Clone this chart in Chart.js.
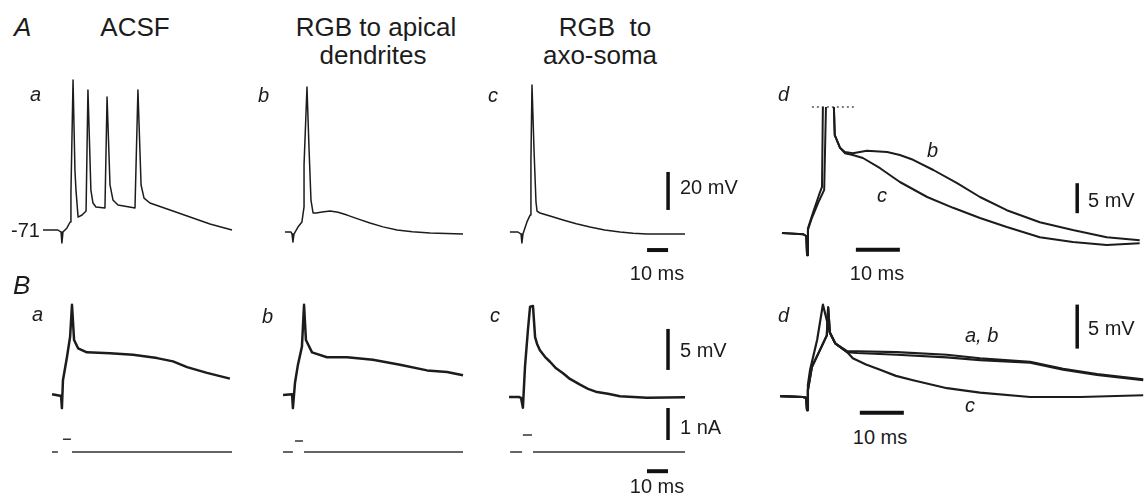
<!DOCTYPE html>
<html>
<head>
<meta charset="utf-8">
<script src="https://cdn.jsdelivr.net/npm/chart.js@4.4.1/dist/chart.umd.min.js"></script>
<style>
  html,body{margin:0;padding:0;background:#fff}
  #fig{position:relative;width:1144px;height:495px;overflow:hidden;font-family:'Liberation Sans',Arial,sans-serif;color:#1c1c1c}
  #fig canvas{position:absolute}
  .t{position:absolute;line-height:1;white-space:pre;transform:translateY(-50%)}
  .c{transform:translate(-50%,-50%)}
  .i{font-style:italic}
</style>
</head>
<body>
<div id="fig"></div>
<script>
// time in ms, membrane potential in mV, injected current in nA

// A a – ACSF, burst of 4 spikes
const tAa = [-1.9, 5.2, 6.7, 7.1, 7.6, 9.5, 11.0, 11.4, 12.4, 13.3, 13.8, 14.8, 16.7, 18.6, 19.5, 20.9, 21.9, 23.3, 27.6, 28.6, 30.0, 31.4, 33.8, 41.9, 43.3, 44.8, 46.2, 49.0, 58.6, 68.1, 77.6, 88.1];
const vAa = [-71, -71, -72.1, -77.8, -72.1, -69.9, -66.8, -51.5, 7.9, -39.4, -50, -64.2, -63.1, -61, 2.7, -50, -56.8, -58.9, -59.4, -1, -47.3, -55.2, -57.8, -59.4, 2.7, -47.3, -54.2, -56.8, -60.5, -64.2, -67.8, -71];

// A b – RGB to apical dendrites
const tAb = [3.3, 6.2, 6.7, 7.1, 7.6, 9.5, 11.4, 12.4, 12.4, 13.8, 14.8, 15.7, 16.7, 18.1, 21.0, 24.8, 28.6, 32.9, 38.0, 43.8, 50.0, 56.7, 64.0, 72.4, 88.1];
const vAb = [-71, -71, -72.1, -76.3, -72.1, -68.4, -65.7, -57.8, -35.7, 5.3, -27.8, -54.2, -61, -61, -60.5, -60, -60.6, -62.1, -64.1, -66.3, -68.3, -69.9, -70.9, -71.5, -72.1];

// A c – RGB to axo-soma
const tAc = [1.4, 5.2, 6.7, 7.1, 7.6, 9.5, 11.0, 11.4, 11.4, 11.9, 12.9, 13.8, 14.3, 15.7, 20.5, 26.7, 33.0, 39.5, 46.5, 53.8, 60.0, 66.7, 88.1];
const vAc = [-71, -71, -72.1, -76.8, -72.1, -65.7, -62.1, -55.2, -33.1, 6.4, -28.9, -55.2, -60, -61, -62.6, -64.7, -66.7, -68.4, -69.9, -71, -71.7, -72.1, -72.1];

// A d – b and c overlaid, spikes truncated
const tAdB = [1.4, 6.2, 6.9, 7.1, 7.3, 8.2, 9.6, 11.0, 11.4, 12.3, 13.2, 13.4, 14.6, 15.7, 17.5, 20.7, 25.3, 28.2, 31.2, 35.8, 41.2, 46.4, 52.5, 60.0, 67.5, 75.2, 82.7];
const vAdB = [-71, -71.2, -71.5, -74.7, -70.5, -68.5, -66, -63.8, -50, null, -50, -54.7, -56.8, -57.5, -57.7, -57.3, -57.5, -58, -58.8, -60.5, -62.7, -65, -67.2, -69.2, -70.5, -71.7, -72.2];
const tAdC = [1.4, 6.2, 6.9, 7.1, 7.3, 8.5, 9.8, 10.5, 10.7, 12.0, 13.2, 13.4, 14.6, 15.7, 17.5, 19.8, 23.7, 28.2, 34.4, 40.3, 46.4, 52.5, 60.0, 67.5, 75.2, 82.7];
const vAdC = [-71, -71.2, -71.5, -74.7, -70.2, -67.5, -64.7, -63.3, -50, null, -50, -54.7, -56.8, -57.7, -58, -58.5, -60.2, -62.5, -65, -66.8, -68.5, -70, -71.7, -72.5, -73, -72.7];

// B a, b, c – subthreshold responses
const tBa = [2.4, 6.2, 6.7, 7.1, 7.6, 9.5, 11.0, 11.9, 12.9, 14.8, 19.0, 30.0, 41.0, 52.4, 60.0, 66.7, 76.2, 87.1];
const vBa = [-70.9, -71.1, -71.1, -72.6, -69.2, -66.4, -63.9, -60, -64.3, -65.3, -65.8, -65.9, -66.1, -66.5, -66.9, -67.6, -68.3, -69];
const tBb = [2.4, 6.7, 7.1, 8.1, 9.5, 11.4, 12.4, 13.3, 16.2, 23.3, 32.9, 45.2, 58.1, 71.0, 80.5, 88.1];
const vBb = [-71, -70.9, -72.6, -69.5, -67.3, -65.1, -60, -64.3, -65.8, -66.4, -66.4, -66.7, -67.3, -68, -68.2, -68.6];
const tBc = [0.5, 5.2, 6.2, 7.1, 8.1, 9.5, 10.5, 11.9, 12.9, 13.8, 15.2, 17.6, 20.0, 22.9, 26.2, 29.5, 34.3, 38.1, 42.4, 47.6, 53.3, 66.2, 87.6];
const vBc = [-71, -71, -71.1, -72.3, -67.3, -62.8, -60, -59.9, -63.7, -64.5, -65.3, -66.1, -66.7, -67.5, -68.1, -68.8, -69.5, -70.0, -70.4, -70.6, -70.9, -71.1, -71];

// injected current steps under B a, b, c
const tIa = [2.4, 5.2, 6.4, 7.6, 11.4, 11.6, 11.9, 88.1];
const iIa = [0, 0, null, 0.4, 0.4, null, 0, 0];
const tIb = [2.4, 7.1, 7.6, 8.1, 11.9, 12.1, 12.4, 88.1];
const iIb = [0, 0, null, 0.34, 0.34, null, 0, 0];
const tIc = [1.0, 6.7, 6.9, 7.1, 11.4, 11.6, 11.9, 87.6];
const iIc = [0, 0, null, 0.53, 0.53, null, 0, 0];

// B d – a, b and c overlaid
const tBdA = [1.0, 6.2, 6.9, 7.1, 7.3, 8.2, 10.0, 11.6, 11.9, 12.3, 13.5, 16.2, 18.5, 27.5, 38.9, 46.4, 57.8, 65.3, 73.0, 83.5];
const vBdA = [-70.9, -71, -71.1, -72.5, -70.2, -67.6, -65.7, -64, -60.8, -63.7, -64.9, -65.9, -66, -66.2, -66.5, -66.8, -67.1, -67.9, -68.5, -69.1];
const vBdB = [-70.9, -71, -71.1, -72.5, -70.2, -67.6, -65.7, -64, -60.8, -63.7, -64.9, -65.8, -65.8, -65.9, -66.2, -66.6, -67.0, -67.8, -68.4, -69.0];
const tBdC = [1.0, 6.2, 6.9, 7.1, 7.3, 7.8, 9.4, 10.7, 12.3, 13.5, 16.2, 17.5, 20.5, 23.7, 27.3, 31.2, 38.9, 46.4, 57.8, 69.2, 83.5];
const vBdC = [-70.9, -71, -71.1, -72.5, -69.6, -67.9, -64.5, -60.5, -63.7, -64.9, -65.9, -66.6, -67.3, -67.9, -68.6, -69.1, -70, -70.5, -71, -71, -70.8];

const REST = -71;
const INK = '#1c1c1c';
const fig = document.getElementById('fig');

const pts = (t, v) => t.map((x, k) => ({ x, y: v[k] }));
const trace = (t, v, w, extra) => Object.assign({ data: pts(t, v), borderColor: INK, borderWidth: w, spanGaps: false }, extra || {});
const bar = (t, v, extra) => Object.assign({ data: pts(t, v), borderColor: '#111', borderWidth: 3.5, borderCapStyle: 'butt' }, extra || {});

// cal: box [left, top, w, h], x0 = px of t=0, ppx = px/ms, y0 = px of rest, ppy = px/mV, i0/ppi for nA
function panel(cal, datasets) {
  const [L, T, W, H] = cal.box;
  const cv = document.createElement('canvas');
  cv.width = W; cv.height = H;
  cv.style.cssText = `left:${L}px;top:${T}px;width:${W}px;height:${H}px`;
  fig.appendChild(cv);
  const xmin = -(cal.x0 - L) / cal.ppx;
  const ymax = REST + (cal.y0 - T) / cal.ppy;
  const scales = {
    x: { type: 'linear', display: false, min: xmin, max: xmin + W / cal.ppx },
    y: { type: 'linear', display: false, min: ymax - H / cal.ppy, max: ymax },
  };
  if (cal.i0) {
    const imax = (cal.i0 - T) / cal.ppi;
    scales.yI = { type: 'linear', display: false, min: imax - H / cal.ppi, max: imax };
  }
  new Chart(cv, {
    type: 'line',
    data: { datasets },
    options: {
      responsive: false, animation: false, events: [],
      layout: { padding: 0 },
      plugins: { legend: { display: false }, tooltip: { enabled: false } },
      elements: { point: { radius: 0 }, line: { tension: 0, borderJoinStyle: 'round' } },
      scales,
    },
  });
}

function label(txt, x, y, size, cls) {
  const d = document.createElement('div');
  d.className = 't ' + (cls || '');
  d.style.left = x + 'px'; d.style.top = y + 'px'; d.style.fontSize = size + 'px';
  d.textContent = txt;
  fig.appendChild(d);
}

// ---- row A ----
panel({ box: [38, 70, 205, 185], x0: 47, ppx: 2.1, y0: 230, ppy: 1.9 }, [trace(tAa, vAa, 1.5)]);
panel({ box: [270, 70, 200, 185], x0: 278, ppx: 2.1, y0: 232, ppy: 1.9 }, [trace(tAb, vAb, 1.5)]);
panel({ box: [490, 70, 195, 195], x0: 507, ppx: 2.1, y0: 232, ppy: 1.9 }, [
  trace(tAc, vAc, 1.5),
  bar([76.7, 76.7], [-59.4, -39.4]),
  bar([66.7, 76.7], [-80.5, -80.5], { borderWidth: 4 }),
]);
panel({ box: [775, 100, 369, 165], x0: 775.8, ppx: 4.4, y0: 233, ppy: 6 }, [
  trace(tAdB, vAdB, 2),
  trace(tAdC, vAdC, 2),
  trace([8.2, 18], [-50, -50], 1.5, { borderDash: [2, 3], borderColor: '#555' }),
  bar([68.5, 68.5], [-67.7, -62.7]),
  bar([18.2, 28.2], [-73.8, -73.8], { borderWidth: 4 }),
]);

// ---- row B ----
panel({ box: [40, 290, 200, 175], x0: 47, ppx: 2.1, y0: 395, ppy: 8.2, i0: 452, ppi: 32 }, [
  trace(tBa, vBa, 2.5),
  trace(tIa, iIa, 1.5, { yAxisID: 'yI', borderColor: '#333' }),
]);
panel({ box: [270, 290, 200, 175], x0: 278, ppx: 2.1, y0: 395, ppy: 8.2, i0: 452, ppi: 32 }, [
  trace(tBb, vBb, 2.5),
  trace(tIb, iIb, 1.5, { yAxisID: 'yI', borderColor: '#333' }),
]);
panel({ box: [490, 290, 195, 205], x0: 508, ppx: 2.1, y0: 397, ppy: 8.2, i0: 452, ppi: 32 }, [
  trace(tBc, vBc, 2.5),
  trace(tIc, iIc, 1.5, { yAxisID: 'yI', borderColor: '#333' }),
  bar([76.2, 76.2], [-67.7, -62.7]),
  bar([76.2, 76.2], [0.375, 1.375], { yAxisID: 'yI' }),
  bar([66.2, 76.2], [-0.6, -0.6], { yAxisID: 'yI', borderWidth: 4 }),
]);
panel({ box: [775, 290, 369, 135], x0: 775.8, ppx: 4.4, y0: 397, ppy: 8.8 }, [
  trace(tBdA, vBdA, 2.2),
  trace(tBdA, vBdB, 2.2),
  trace(tBdC, vBdC, 2.2),
  bar([68.5, 68.5], [-65.5, -60.5]),
  bar([19.1, 29.1], [-72.8, -72.8], { borderWidth: 4 }),
]);

// ---- text ----
label('A', 14, 27, 26, 'i');
label('ACSF', 135, 27, 26, 'c');
label('RGB to apical', 376, 27, 26, 'c');
label('dendrites', 373, 55, 26, 'c');
label('RGB  to', 605, 27, 26, 'c');
label('axo-soma', 600, 55, 26, 'c');
label('a', 30, 94, 20, 'i');
label('b', 258, 95, 20, 'i');
label('c', 488, 95, 20, 'i');
label('d', 778, 94, 20, 'i');
label('-71', 11, 230, 20);
label('20 mV', 680, 187, 20);
label('10 ms', 657, 273, 20, 'c');
label('b', 927, 150, 20, 'i');
label('c', 877, 195, 20, 'i');
label('5 mV', 1088, 200, 20);
label('10 ms', 877, 273, 20, 'c');

label('B', 13, 285, 26, 'i');
label('a', 32, 314, 20, 'i');
label('b', 262, 316, 20, 'i');
label('c', 490, 315, 20, 'i');
label('d', 778, 315, 20, 'i');
label('5 mV', 680, 350, 20);
label('1 nA', 680, 427, 20);
label('10 ms', 657, 486, 20, 'c');
label('a, b', 965, 335, 20, 'i');
label('c', 965, 405, 20, 'i');
label('5 mV', 1088, 328, 20);
label('10 ms', 880, 437, 20, 'c');
</script>
</body>
</html>
